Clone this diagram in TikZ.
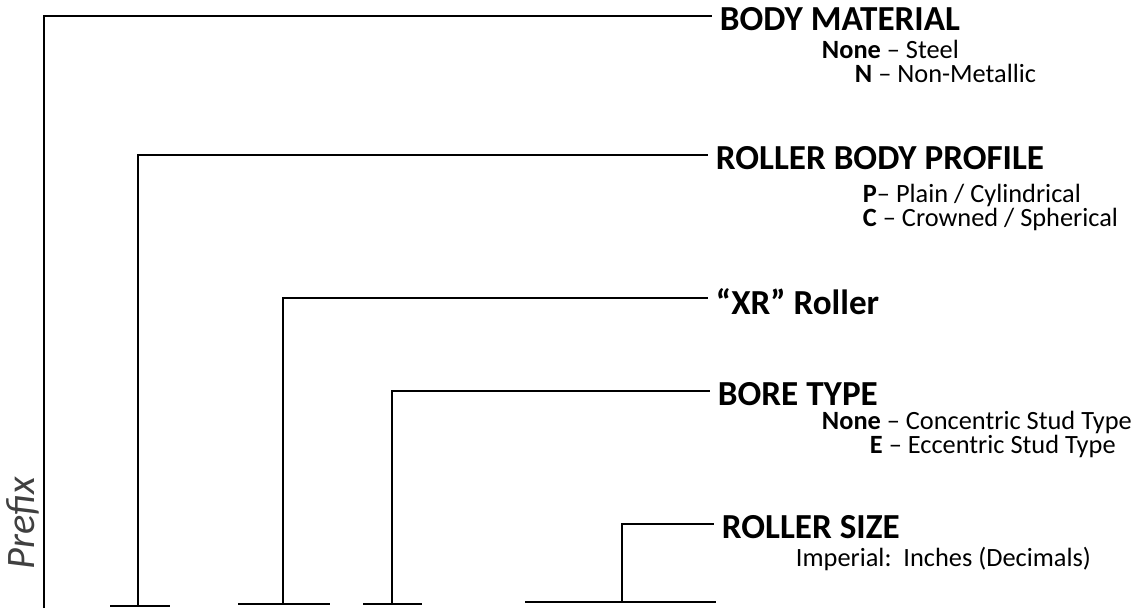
\documentclass[tikz,border=0pt]{standalone}
\usepackage{fontspec}
\setmainfont{Carlito}
\usetikzlibrary{positioning}

\begin{document}
\begin{tikzpicture}[x=0.02cm,y=-0.02cm,line width=1.1pt,line join=miter]
  \tikzset{head/.style={anchor=west,inner xsep=4pt,inner ysep=0pt,yshift=-2pt,font=\fontsize{20}{22}\selectfont\bfseries},
    opt/.style={anchor=base west,inner sep=0pt,font=\fontsize{15}{17}\selectfont}}
  \useasboundingbox (0,0) rectangle (1137,609);
  % headings
  \node[head] (mat) at (712,16) {BODY MATERIAL};
  \node[head] (prof) at (708,155) {ROLLER BODY PROFILE};
  \node[head] (xr) at (708,298) {“XR” Roller};
  \node[head] (bore) at (710,391) {BORE TYPE};
  \node[head] (size) at (714,524) {ROLLER SIZE};
  % options
  \node[opt] (matA) at (821,58) {\textbf{None} – Steel};
  \node[opt] (matB) at (854,82) {\textbf{N} – Non-Metallic};
  \node[opt] (profA) at (862,202) {\textbf{P}– Plain / Cylindrical};
  \node[opt] (profB) at (862,226) {\textbf{C} – Crowned / Spherical};
  \node[opt] (boreA) at (821,429) {\textbf{None} – Concentric Stud Type};
  \node[opt] (boreB) at (869,453) {\textbf{E} – Eccentric Stud Type};
  \node[opt] (sizeA) at (795,566) {Imperial:\ \ Inches (Decimals)};
  \node[rotate=90,font=\fontsize{23}{25}\itshape,black!75] (pre) at (23,523) {Pref{}ix};
  % brackets
  \coordinate (M0) at (44,608);
  \draw (M0) |- ([yshift=2pt]mat.west);
  \coordinate (P0) at (138,606);
  \draw (110,606) -- (170,606);
  \draw (P0) |- ([yshift=2pt]prof.west);
  \coordinate (X0) at (283,604);
  \draw (238,604) -- (330,604);
  \draw (X0) |- ([yshift=2pt]xr.west);
  \coordinate (B0) at (392,604);
  \draw (363,604) -- (422,604);
  \draw (B0) |- ([yshift=2pt]bore.west);
  \coordinate (S0) at (622,602);
  \draw (525,602) -- (716,602);
  \draw (S0) |- ([yshift=2pt]size.west);
\end{tikzpicture}
\end{document}
